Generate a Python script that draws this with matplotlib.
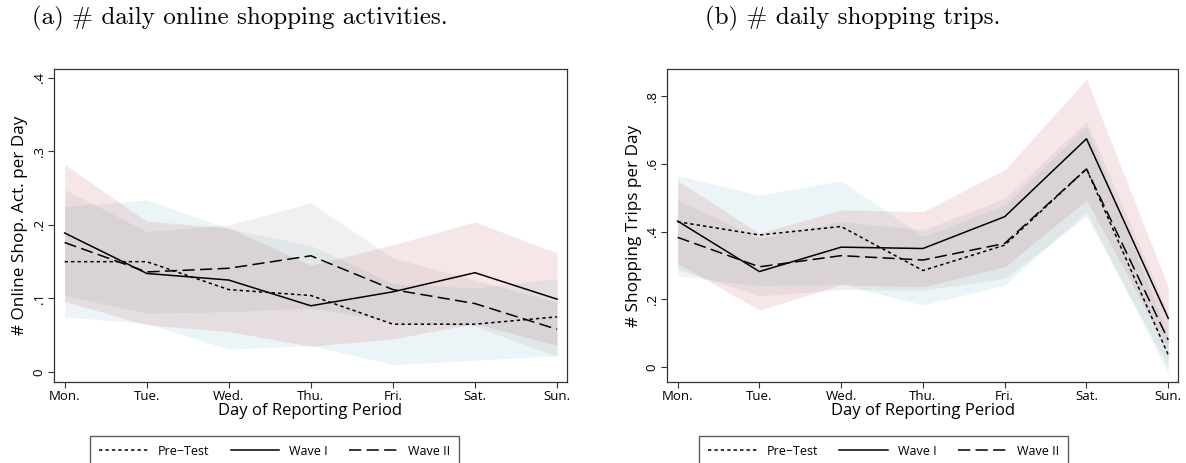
import matplotlib

matplotlib.use("Agg")
import matplotlib.pyplot as plt  # noqa: E402
import numpy as np  # noqa: E402

days = ["Mon.", "Tue.", "Wed.", "Thu.", "Fri.", "Sat.", "Sun."]

# (a) online shopping activities per day
online_pre = [0.150, 0.150, 0.112, 0.104, 0.065, 0.065, 0.075]
online_w1 = [0.189, 0.134, 0.125, 0.090, 0.109, 0.135, 0.099]
online_w2 = [0.176, 0.136, 0.141, 0.158, 0.112, 0.093, 0.058]
online_pre_lo = [0.075, 0.066, 0.031, 0.036, 0.010, 0.016, 0.022]
online_pre_hi = [0.225, 0.234, 0.195, 0.172, 0.120, 0.114, 0.127]
online_w1_lo = [0.096, 0.064, 0.055, 0.035, 0.045, 0.066, 0.036]
online_w1_hi = [0.282, 0.205, 0.196, 0.145, 0.173, 0.204, 0.162]
online_w2_lo = [0.104, 0.080, 0.082, 0.087, 0.068, 0.062, 0.021]
online_w2_hi = [0.248, 0.191, 0.200, 0.230, 0.155, 0.125, 0.095]

# (b) shopping trips per day
trips_pre = [0.429, 0.390, 0.415, 0.285, 0.360, 0.585, 0.036]
trips_w1 = [0.431, 0.282, 0.354, 0.350, 0.444, 0.674, 0.144]
trips_w2 = [0.383, 0.296, 0.329, 0.316, 0.365, 0.585, 0.080]
trips_pre_lo = [0.270, 0.240, 0.245, 0.183, 0.242, 0.459, -0.019]
trips_pre_hi = [0.565, 0.508, 0.550, 0.386, 0.478, 0.711, 0.090]
trips_w1_lo = [0.306, 0.168, 0.243, 0.237, 0.296, 0.493, 0.050]
trips_w1_hi = [0.550, 0.395, 0.464, 0.459, 0.582, 0.850, 0.237]
trips_w2_lo = [0.289, 0.210, 0.229, 0.227, 0.262, 0.445, 0.000]
trips_w2_hi = [0.493, 0.380, 0.430, 0.405, 0.498, 0.725, 0.160]

online_ticks = [0, 0.1, 0.2, 0.3, 0.4]
online_ticklabels = ["0", ".1", ".2", ".3", ".4"]
trips_ticks = [0, 0.2, 0.4, 0.6, 0.8]
trips_ticklabels = ["0", ".2", ".4", ".6", ".8"]

SANS = ["Open Sans", "DejaVu Sans"]
SERIF = ["cmr10", "DejaVu Serif"]
EDGE = "#333333"


def panel(ax, pre, w1, w2, bands, ylim, ticks, ticklabels, ylabel):
    x = np.arange(len(days))
    (pre_lo, pre_hi), (w1_lo, w1_hi), (w2_lo, w2_hi) = bands
    ax.fill_between(x, pre_lo, pre_hi, color="#7fb8cc", alpha=0.15, lw=0)
    ax.fill_between(x, w1_lo, w1_hi, color="#c85a60", alpha=0.15, lw=0)
    ax.fill_between(x, w2_lo, w2_hi, color="#9a9a9a", alpha=0.14, lw=0)
    ax.plot(x, pre, color="black", lw=1.1, linestyle=(0, (2.2, 2.0)), label="Pre\u2212Test")
    ax.plot(x, w1, color="black", lw=1.1, linestyle="-", label="Wave I")
    ax.plot(x, w2, color="black", lw=1.1, linestyle=(0, (8, 3.5)), label="Wave II")
    ax.set_xlim(-0.13, 6.12)
    ax.set_ylim(*ylim)
    ax.set_xticks(x)
    ax.set_xticklabels(days, fontfamily=SANS, fontsize=9.5)
    ax.set_yticks(ticks)
    ax.set_yticklabels(ticklabels, fontfamily=SANS, fontsize=9.5, rotation=90, va="center")
    ax.tick_params(axis="both", direction="out", length=4, width=0.8, color=EDGE, pad=2)
    for s in ax.spines.values():
        s.set_color(EDGE)
        s.set_linewidth(0.9)
    ax.set_xlabel("Day of Reporting Period", fontfamily=SANS, fontsize=12, labelpad=0)
    ax.set_ylabel(ylabel, fontfamily=SANS, fontsize=12.3, labelpad=3)


fig = plt.figure(figsize=(11.86, 4.63), dpi=100)
ax1 = fig.add_axes([0.0455, 0.175, 0.4325, 0.676])
ax2 = fig.add_axes([0.5624, 0.175, 0.4309, 0.676])

panel(ax1, online_pre, online_w1, online_w2,
      [(online_pre_lo, online_pre_hi), (online_w1_lo, online_w1_hi), (online_w2_lo, online_w2_hi)],
      (-0.0136, 0.412), online_ticks, online_ticklabels, "# Online Shop. Act. per Day")
panel(ax2, trips_pre, trips_w1, trips_w2,
      [(trips_pre_lo, trips_pre_hi), (trips_w1_lo, trips_w1_hi), (trips_w2_lo, trips_w2_hi)],
      (-0.044, 0.88), trips_ticks, trips_ticklabels, "# Shopping Trips per Day")

fig.text(0.2024, 0.960, "(a) # daily online shopping activities.", ha="center", va="center",
         fontfamily=SERIF, fontsize=18)
fig.text(0.7192, 0.960, "(b) # daily shopping trips.", ha="center", va="center",
         fontfamily=SERIF, fontsize=18)

for ax, cx in ((ax1, 0.2315), (ax2, 0.7448)):
    ax.legend(loc="upper center", bbox_to_anchor=(cx, 0.0583), bbox_transform=fig.transFigure,
              ncol=3, frameon=True, fancybox=False, edgecolor=EDGE, handlelength=3.9,
              columnspacing=1.7, handletextpad=0.8, borderpad=0.7, borderaxespad=0,
              prop={"family": SANS, "size": 9})

fig.savefig("out.png", dpi=100)
